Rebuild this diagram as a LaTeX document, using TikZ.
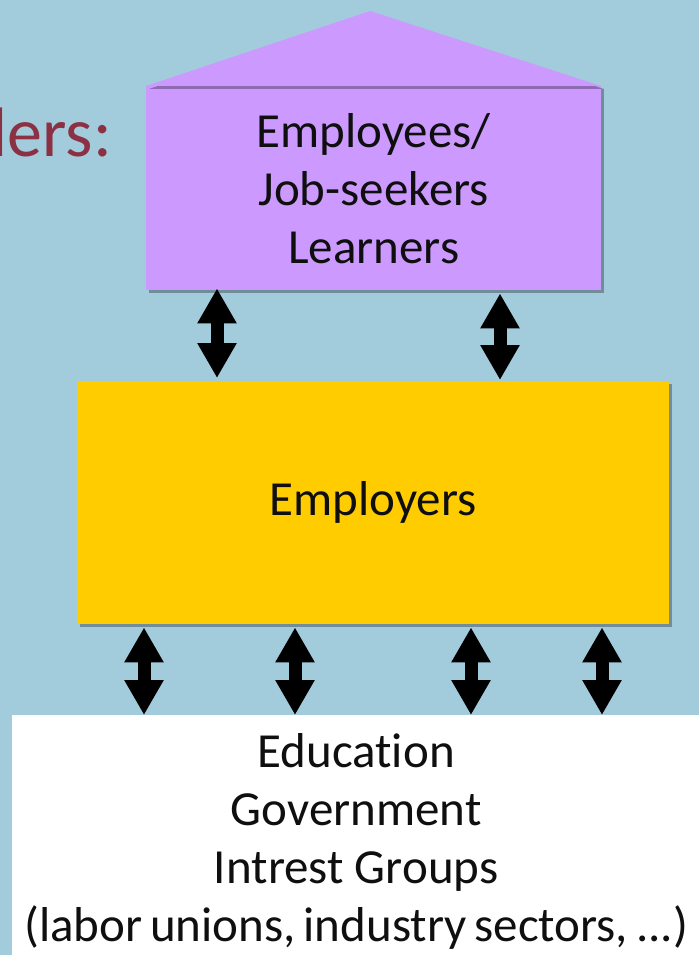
\documentclass[tikz,border=0pt]{standalone}
\usepackage{fontspec}
\setmainfont{Carlito}[Ligatures=NoCommon]
\usetikzlibrary{arrows.meta,shadows}
\definecolor{bgblue}{RGB}{162,203,220}
\definecolor{housepurple}{RGB}{204,153,255}
\definecolor{empyellow}{RGB}{255,204,0}
\definecolor{titlered}{RGB}{140,48,68}
\definecolor{inktext}{RGB}{15,15,15}
\tikzset{
  softshadow/.style={drop shadow={shadow xshift=3pt,shadow yshift=-3pt,opacity=0.3,fill=black}},
  boxtext/.style={font=\fontsize{49}{58}\selectfont, text=inktext, align=center, inner sep=0pt},
  pbox/.style={boxtext, fill=housepurple, anchor=north west, softshadow},
  ybox/.style={boxtext, fill=empyellow, anchor=north west, softshadow},
  wbox/.style={boxtext, fill=white, anchor=north west},
  dblarrow/.style={line width=13pt, draw=black, {Triangle[length=35pt,width=37pt]}-{Triangle[length=35pt,width=37pt]}}
}
\begin{document}
\begin{tikzpicture}[x=1pt,y=-1pt]
\useasboundingbox (0,0) rectangle (699,955);
\clip (0,0) rectangle (699,955);
\fill[bgblue] (0,0) rectangle (699,955);
% title fragment
\node[font=\fontsize{70}{80}\selectfont, text=titlered, anchor=base east, inner sep=0pt] (title) at (112,157) {lers:};
% house body
\node[pbox, minimum width=455pt, minimum height=204pt] (emp) at (146,86) {Employees/\\Job-seekers\\Learners};
% roof
\fill[housepurple, softshadow] (146,86) -- (370,11) -- (601,86) -- cycle;
% employers
\node[ybox, minimum width=592pt, minimum height=243pt] (empr) at (77,381) {Employers};
% stakeholders
\node[wbox, minimum width=688pt, minimum height=252pt] (oth) at (12,715) {Education\\Government\\Intrest Groups\\{\spaceskip=0.16em(labor unions, industry sectors, ...)}};
% arrow columns
\coordinate (c1) at (217,0);
\coordinate (c2) at (500,0);
\coordinate (c3) at (144,0);
\coordinate (c4) at (295,0);
\coordinate (c5) at (471,0);
\coordinate (c6) at (602,0);
\draw[dblarrow, shorten <=-2pt, shorten >=3pt] (emp.south -| c1) -- (empr.north -| c1);
\draw[dblarrow, shorten <=3pt, shorten >=1pt] (emp.south -| c2) -- (empr.north -| c2);
\draw[dblarrow, shorten <=3pt] (empr.south -| c3) -- (oth.north -| c3);
\draw[dblarrow, shorten <=3pt] (empr.south -| c4) -- (oth.north -| c4);
\draw[dblarrow, shorten <=3pt] (empr.south -| c5) -- (oth.north -| c5);
\draw[dblarrow, shorten <=3pt] (empr.south -| c6) -- (oth.north -| c6);
\end{tikzpicture}
\end{document}
